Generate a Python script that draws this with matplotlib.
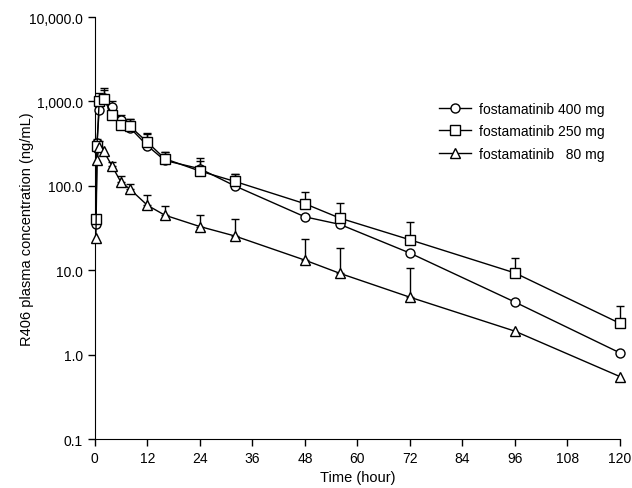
import matplotlib
matplotlib.use("Agg")
import matplotlib.pyplot as plt
import matplotlib.ticker as mticker
import numpy as np

plt.rcParams['font.family'] = ['Liberation Sans', 'DejaVu Sans']
plt.rcParams['font.size'] = 10

# sampling times (hour)
time_h = [0.25, 0.5, 1, 2, 4, 6, 8, 12, 16, 24, 32, 48, 56, 72, 96, 120]

# mean R406 concentration (ng/mL)
conc_400 = [35, 320, 800, 1100, 850, 600, 490, 300, 200, 160, 100, 43, 35, 16, 4.2, 1.05]
conc_250 = [40, 300, 1000, 1070, 700, 520, 510, 330, 210, 150, 113, 61.5, 41.5, 23, 9.3, 2.35]
conc_80 = [24, 205, 290, 260, 170, 110, 92, 59, 45, 33, 25.5, 13.2, 9.2, 4.8, 1.9, 0.55]

# upper SD only
sd_400 = [0, 0, 0, 350, 150, 100, 130, 110, 50, 55, 40, 0, 0, 0, 0, 0]
sd_250 = [0, 60, 250, 300, 150, 80, 110, 90, 45, 45, 25, 24, 22, 14, 4.7, 1.4]
sd_80 = [0, 0, 50, 0, 24, 20, 14, 20, 13, 12, 15, 10, 9, 5.8, 0, 0]

series = [
    (conc_400, sd_400, 'o', 'fostamatinib 400 mg'),
    (conc_250, sd_250, 's', 'fostamatinib 250 mg'),
    (conc_80, sd_80, '^', 'fostamatinib   80 mg'),
]

fig = plt.figure(figsize=(6.32, 4.89), dpi=100)
ax = fig.add_axes([0.150, 0.100, 0.831, 0.863])

t = np.array(time_h)
for conc, sd, mk, lab in series:
    c = np.array(conc)
    s = np.array(sd, dtype=float)
    mask = s > 0
    ax.errorbar(t[mask], c[mask], yerr=[np.zeros(mask.sum()), s[mask]],
                fmt='none', ecolor='black', elinewidth=1, capsize=3,
                capthick=1, zorder=2, clip_on=False)
for conc, sd, mk, lab in series:
    ax.plot(t, conc, color='black', lw=1.0, marker=mk, markersize=6.5,
            markerfacecolor='white', markeredgecolor='black',
            markeredgewidth=1, label=lab, zorder=3, clip_on=False)

ax.set_yscale('log')
ax.set_ylim(0.1, 10000)
ax.set_xlim(0, 120)
ax.set_xticks(np.arange(0, 121, 12))
ax.yaxis.set_major_locator(mticker.FixedLocator([0.1, 1, 10, 100, 1000, 10000]))
ax.yaxis.set_major_formatter(mticker.FuncFormatter(lambda v, p: '{:,.1f}'.format(v)))
ax.yaxis.set_minor_locator(mticker.NullLocator())

ax.spines['top'].set_visible(False)
ax.spines['right'].set_visible(False)
ax.tick_params(direction='out', length=5, width=1)

ax.set_xlabel('Time (hour)', fontsize=10.5, labelpad=4)
ax.set_ylabel('R406 plasma concentration (ng/mL)', fontsize=10.5)
ax.yaxis.set_label_coords(-0.115, 0.5)

ax.legend(loc='upper left', bbox_to_anchor=(0.675, 0.815), bbox_transform=fig.transFigure,
          frameon=False, handlelength=2.3, labelspacing=0.6, handletextpad=0.6)

fig.savefig('out.png', dpi=100)
